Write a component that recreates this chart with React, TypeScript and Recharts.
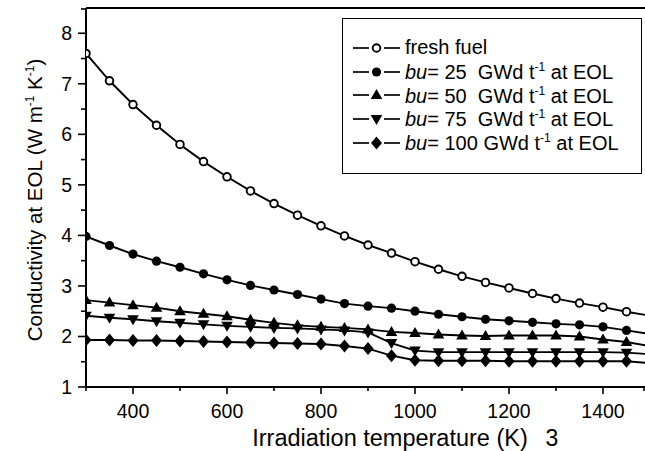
import React from "react";
import { LineChart, Line, XAxis, YAxis, Legend, Label, ReferenceLine } from "recharts";

const temps = [300, 350, 400, 450, 500, 550, 600, 650, 700, 750, 800, 850, 900, 950, 1000, 1050, 1100, 1150, 1200, 1250, 1300, 1350, 1400, 1450, 1500];
const freshFuel = [7.6, 7.06, 6.59, 6.18, 5.8, 5.46, 5.16, 4.88, 4.63, 4.4, 4.19, 3.99, 3.81, 3.65, 3.48, 3.33, 3.19, 3.07, 2.96, 2.85, 2.75, 2.66, 2.58, 2.49, 2.41];
const bu25 = [3.98, 3.8, 3.63, 3.49, 3.37, 3.24, 3.12, 3.01, 2.92, 2.83, 2.74, 2.65, 2.6, 2.56, 2.5, 2.44, 2.39, 2.34, 2.31, 2.28, 2.25, 2.23, 2.19, 2.12, 2.05];
const bu50 = [2.72, 2.67, 2.62, 2.57, 2.5, 2.45, 2.4, 2.33, 2.27, 2.22, 2.19, 2.17, 2.14, 2.09, 2.07, 2.04, 2.02, 2.01, 2.02, 2.02, 2.02, 2.0, 1.94, 1.89, 1.81];
const bu75 = [2.41, 2.37, 2.34, 2.3, 2.27, 2.24, 2.21, 2.19, 2.17, 2.16, 2.14, 2.12, 2.08, 1.87, 1.72, 1.69, 1.69, 1.69, 1.69, 1.69, 1.69, 1.69, 1.69, 1.68, 1.65];
const bu100 = [1.93, 1.93, 1.92, 1.92, 1.91, 1.9, 1.89, 1.88, 1.87, 1.86, 1.85, 1.81, 1.76, 1.62, 1.53, 1.52, 1.52, 1.52, 1.51, 1.51, 1.51, 1.51, 1.51, 1.51, 1.47];

const xTicks = [300, 400, 500, 600, 700, 800, 900, 1000, 1100, 1200, 1300, 1400, 1500];
const yTicks = [1, 1.5, 2, 2.5, 3, 3.5, 4, 4.5, 5, 5.5, 6, 6.5, 7, 7.5, 8, 8.5];
const burnups = ["", "25 ", "50 ", "75 ", "100"];

const data = temps.map((t, i) => ({
  t,
  fresh: freshFuel[i],
  bu25: bu25[i],
  bu50: bu50[i],
  bu75: bu75[i],
  bu100: bu100[i],
}));

const FONT = "'Liberation Sans', Arial, Helvetica, sans-serif";

type Shape = "open" | "circle" | "up" | "down" | "diamond";

function marker(shape: Shape, cx: number, cy: number, key?: any) {
  switch (shape) {
    case "open":
      return <circle key={key} cx={cx} cy={cy} r={3.8} fill="#fff" stroke="#000" strokeWidth={1.9} />;
    case "circle":
      return <circle key={key} cx={cx} cy={cy} r={4.6} fill="#000" />;
    case "up":
      return <polygon key={key} points={`${cx},${cy - 6} ${cx + 5.8},${cy + 4} ${cx - 5.8},${cy + 4}`} fill="#000" />;
    case "down":
      return <polygon key={key} points={`${cx},${cy + 6} ${cx + 5.8},${cy - 4} ${cx - 5.8},${cy - 4}`} fill="#000" />;
    default:
      return <polygon key={key} points={`${cx},${cy - 6.5} ${cx + 5.5},${cy} ${cx},${cy + 6.5} ${cx - 5.5},${cy}`} fill="#000" />;
  }
}

const makeDot = (shape: Shape) => (props: any) => {
  const { cx, cy, payload, index } = props;
  if (payload.t > 1450) return <g key={index} />;
  return marker(shape, cx, cy, index);
};

const XTick = ({ x, y, payload }: any) => {
  const v = payload.value;
  const major = v % 200 === 0;
  return (
    <g>
      <line x1={x} x2={x} y1={y} y2={y + (major ? 7 : 4)} stroke="#000" strokeWidth={1.6} />
      {major && v !== 300 && v !== 1500 && (
        <text x={x} y={y + 31} textAnchor="middle" fontSize={19.5} fontFamily={FONT} fill="#000">
          {v}
        </text>
      )}
    </g>
  );
};

const YTick = ({ x, y, payload }: any) => {
  const v = payload.value;
  const major = Number.isInteger(v);
  return (
    <g>
      <line x1={x - (major ? 8 : 5)} x2={x} y1={y} y2={y} stroke="#000" strokeWidth={1.6} />
      {major && (
        <text x={x - 14} y={y + 7} textAnchor="end" fontSize={19.5} fontFamily={FONT} fill="#000">
          {v}
        </text>
      )}
    </g>
  );
};

const shapes: Shape[] = ["open", "circle", "up", "down", "diamond"];

const LegendBox = () => (
  <div
    style={{
      border: "1.5px solid #000",
      background: "#fff",
      width: 300,
      height: 156,
      boxSizing: "border-box",
      paddingTop: 17,
      paddingLeft: 9,
      fontFamily: FONT,
      fontSize: 20,
      color: "#000",
    }}
  >
    {shapes.map((s, i) => (
      <div key={s} style={{ display: "flex", alignItems: "center", height: 23.8, whiteSpace: "pre" }}>
        <svg width={50} height={20} style={{ marginRight: 3 }}>
          <line x1={1} x2={17} y1={10} y2={10} stroke="#000" strokeWidth={1.7} />
          <line x1={32} x2={48} y1={10} y2={10} stroke="#000" strokeWidth={1.7} />
          {marker(s, 24.5, 10)}
        </svg>
        {i === 0 ? (
          <span>fresh fuel</span>
        ) : (
          <span>
            <i>bu</i>= {burnups[i]} GWd t<sup style={{ fontSize: 12, verticalAlign: 8 }}>-1</sup> at EOL
          </span>
        )}
      </div>
    ))}
  </div>
);

export default function App() {
  return (
    <div style={{ position: "absolute", left: 0, top: 0, width: 645, height: 451, overflow: "hidden", background: "#fff" }}>
      <LineChart width={660} height={451} data={data} margin={{ top: 8, right: 10, left: 0, bottom: 0 }}>
        <XAxis
          dataKey="t"
          type="number"
          domain={[300, 1500]}
          ticks={xTicks}
          tick={<XTick />}
          tickLine={false}
          tickSize={0}
          tickMargin={0}
          height={64}
          axisLine={{ stroke: "#000", strokeWidth: 2 }}
          allowDataOverflow
        >
          <Label
            content={() => (
              <g fontFamily={FONT} fill="#000">
                <text x={390} y={446} textAnchor="middle" fontSize={23.5}>
                  Irradiation temperature (K)
                </text>
                <text x={552} y={446} textAnchor="middle" fontSize={23}>
                  3
                </text>
              </g>
            )}
          />
        </XAxis>
        <YAxis
          type="number"
          domain={[1, 8.5]}
          ticks={yTicks}
          tick={<YTick />}
          tickLine={false}
          tickSize={0}
          tickMargin={0}
          width={86}
          axisLine={{ stroke: "#000", strokeWidth: 2 }}
          allowDataOverflow
        >
          <Label
            content={() => (
              <text transform="translate(42,200) rotate(-90)" textAnchor="middle" fontSize={20.5} fontFamily={FONT} fill="#000">
                Conductivity at EOL (W m
                <tspan dy={-8} fontSize={12}>-1</tspan>
                <tspan dy={8}> K</tspan>
                <tspan dy={-8} fontSize={12}>-1</tspan>
                <tspan dy={8}>)</tspan>
              </text>
            )}
          />
        </YAxis>
        <ReferenceLine y={8.5} stroke="#000" strokeWidth={2} />
        <Legend
          layout="vertical"
          align="center"
          verticalAlign="middle"
          content={() => <LegendBox />}
          wrapperStyle={{ position: "absolute", left: 342, top: 18, width: 300, height: 156 }}
        />
        <Line dataKey="fresh" stroke="#000" strokeWidth={1.9} dot={makeDot("open")} isAnimationActive={false} />
        <Line dataKey="bu25" stroke="#000" strokeWidth={1.9} dot={makeDot("circle")} isAnimationActive={false} />
        <Line dataKey="bu50" stroke="#000" strokeWidth={1.9} dot={makeDot("up")} isAnimationActive={false} />
        <Line dataKey="bu75" stroke="#000" strokeWidth={1.9} dot={makeDot("down")} isAnimationActive={false} />
        <Line dataKey="bu100" stroke="#000" strokeWidth={1.9} dot={makeDot("diamond")} isAnimationActive={false} />
      </LineChart>
    </div>
  );
}
